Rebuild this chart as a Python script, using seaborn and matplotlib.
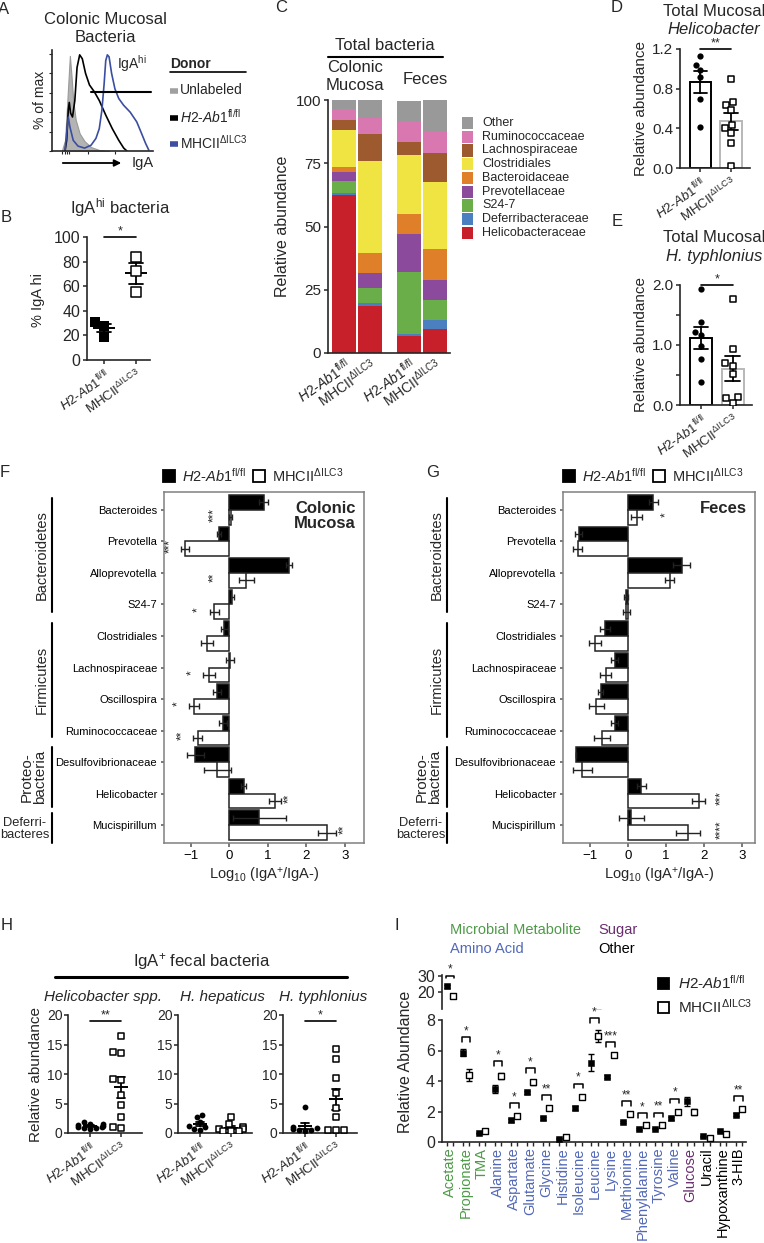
"""Multi-panel IgA / microbiota figure recreated with seaborn."""
import numpy as np
import pandas as pd
import matplotlib
matplotlib.use("Agg")
import matplotlib.pyplot as plt
from matplotlib.patches import Rectangle, FancyArrowPatch
import seaborn as sns

# ---------------------------------------------------------------- data
# A: flow histogram traces (x = fraction of IgA axis, y = % of max)
unlab_x = [0.097, 0.129, 0.145, 0.161, 0.177, 0.194, 0.21, 0.235, 0.274, 0.323, 0.387, 0.468, 0.565]
unlab_y = [0, 11, 39, 69, 98, 76, 52, 32, 18, 10, 4, 1, 0]
h2_trace_x = [0.129, 0.145, 0.161, 0.171, 0.184, 0.203, 0.226, 0.248, 0.274, 0.3, 0.332,
              0.371, 0.419, 0.468, 0.532, 0.597, 0.661, 0.71, 0.742]
h2_trace_y = [0, 11, 42, 50, 39, 35, 52, 86, 99, 95, 80, 68, 61, 52, 37, 23, 11, 3, 0]
mhc_trace_x = [0.129, 0.145, 0.161, 0.177, 0.21, 0.258, 0.323, 0.387, 0.435, 0.468, 0.494, 0.516,
               0.532, 0.548, 0.565, 0.59, 0.623, 0.661, 0.71, 0.774, 0.839, 0.887, 0.926, 0.958]
mhc_trace_y = [1, 18, 35, 25, 11, 5, 3, 6, 13, 23, 42, 69, 93, 99, 97, 80, 64, 54, 47, 40, 30, 18, 8, 1]

# B: % IgA hi
b_h2 = [31, 28, 19]
b_mhc = [84, 72, 55]

# C: relative abundance (stacked, bottom to top)
c_taxa = ["Helicobacteraceae", "Deferribacteraceae", "S24-7", "Prevotellaceae",
          "Bacteroidaceae", "Clostridiales", "Lachnospiraceae", "Ruminococcaceae", "Other"]
c_helico = [62.5, 18.7, 6.8, 9.5]
c_deferri = [0.9, 1.0, 0.8, 3.7]
c_s24 = [4.4, 6.0, 24.4, 7.9]
c_prevot = [3.9, 5.9, 15.2, 7.8]
c_bacter = [2.0, 7.9, 7.9, 12.2]
c_clostr = [14.5, 36.2, 23.0, 26.4]
c_lachno = [3.9, 10.7, 5.3, 11.7]
c_rumino = [4.2, 6.4, 7.8, 8.6]
c_other = [3.7, 7.2, 8.6, 12.2]
c_colors = ["#c8202a", "#4a7fc0", "#6aae4a", "#8b4a9c", "#e07f2a",
            "#f0e442", "#9c5a2e", "#d977b0", "#999999"]

# D / E: mucosal Helicobacter
d_h2 = [1.13, 1.04, 0.99, 0.92, 0.70, 0.41]
d_mhc = [0.90, 0.67, 0.64, 0.58, 0.43, 0.40, 0.35, 0.25, 0.02]
e_h2 = [1.94, 1.38, 1.21, 1.17, 0.99, 0.76, 0.38]
e_mhc = [1.77, 0.94, 0.70, 0.65, 0.51, 0.14, 0.11, 0.04]

# F / G: log10 IgA+/IgA- ratios
fg_taxa = ["Bacteroides", "Prevotella", "Alloprevotella", "S24-7", "Clostridiales",
           "Lachnospiraceae", "Oscillospira", "Ruminococcaceae", "Desulfovibrionaceae",
           "Helicobacter", "Mucispirillum"]
f_h2 = [0.89, -0.26, 1.56, 0.08, -0.13, 0.02, -0.32, -0.17, -0.89, 0.37, 0.78]
f_h2_err = [0.11, 0.05, 0.08, 0.05, 0.1, 0.1, 0.1, 0.1, 0.22, 0.07, 0.68]
f_mhc = [0.04, -1.15, 0.44, -0.39, -0.58, -0.53, -0.92, -0.82, -0.32, 1.19, 2.54]
f_mhc_err = [0.04, 0.1, 0.2, 0.12, 0.15, 0.15, 0.12, 0.12, 0.35, 0.15, 0.23]
f_stars = ["***", "***", "**", "*", "", "*", "*", "**", "", "**", "**"]
g_h2 = [0.67, -1.29, 1.41, -0.06, -0.61, -0.35, -0.71, -0.35, -1.37, 0.35, 0.09]
g_h2_err = [0.12, 0.1, 0.23, 0.05, 0.13, 0.08, 0.06, 0.1, 0.0, 0.12, 0.33]
g_mhc = [0.23, -1.32, 1.10, -0.04, -0.86, -0.58, -0.83, -0.68, -1.19, 1.85, 1.57]
g_mhc_err = [0.15, 0.12, 0.12, 0.1, 0.15, 0.15, 0.2, 0.2, 0.25, 0.16, 0.32]
g_stars = ["*", "", "", "", "", "", "", "", "", "***", "****"]

# H: IgA+ fecal bacteria
h_titles = ["Helicobacter spp.", "H. hepaticus", "H. typhlonius"]
h_h2 = [[1.8, 1.6, 1.5, 1.4, 1.2, 1.1, 1.0, 0.9, 0.8, 0.6],
        [2.7, 3.0, 1.9, 1.2, 1.0, 0.6, 0.5],
        [4.4, 1.0, 0.85, 0.7, 0.55, 0.45, 0.3]]
h_mhc = [[16.4, 13.8, 13.6, 9.1, 8.9, 6.4, 4.7, 2.7, 1.0, 0.9],
         [2.7, 1.5, 1.0, 0.7, 0.6, 0.3, 0.3, 0.3],
         [14.3, 12.6, 9.3, 6.7, 4.3, 2.7, 0.55, 0.5, 0.45]]
h_stars = ["**", "", "*"]

# I: metabolites
i_names = ["Acetate", "Propionate", "TMA", "Alanine", "Aspartate", "Glutamate", "Glycine",
           "Histidine", "Isoleucine", "Leucine", "Lysine", "Methionine", "Phenylalanine",
           "Tyrosine", "Valine", "Glucose", "Uracil", "Hypoxanthine", "3-HIB"]
i_class = ["Microbial Metabolite"] * 3 + ["Amino Acid"] * 12 + ["Sugar"] + ["Other"] * 3
i_h2 = [23.5, 5.86, 0.59, 3.46, 1.42, 3.25, 1.57, 0.22, 2.22, 5.2, 4.29, 1.31, 0.85,
        0.87, 1.57, 2.66, 0.37, 0.70, 1.79]
i_h2_err = [1.0, 0.25, 0.03, 0.25, 0.08, 0.12, 0.1, 0.03, 0.15, 0.55, 0.12, 0.08, 0.05,
            0.05, 0.1, 0.3, 0.03, 0.04, 0.08]
i_mhc = [17.5, 4.40, 0.70, 4.34, 1.72, 3.92, 2.22, 0.30, 2.94, 6.95, 5.71, 1.85, 1.09,
         1.13, 2.0, 1.96, 0.26, 0.54, 2.16]
i_mhc_err = [1.2, 0.4, 0.05, 0.2, 0.08, 0.15, 0.08, 0.03, 0.12, 0.4, 0.1, 0.08, 0.05,
             0.05, 0.08, 0.2, 0.03, 0.03, 0.08]
i_stars = ["*", "*", "", "*", "*", "*", "**", "", "*", "*", "***", "**", "*", "**", "*",
           "", "", "", "**"]
class_colors = {"Microbial Metabolite": "#4d9a47", "Amino Acid": "#5268b8",
                "Sugar": "#6a2d6f", "Other": "black"}

H2_LAB = r"$\mathit{H2}$-$\mathit{Ab1}^{\mathrm{fl/fl}}$"
MHC_LAB = r"MHCII$^{\Delta\mathrm{ILC3}}$"
GROUPS = ["H2", "MHC"]

# ---------------------------------------------------------------- setup
W, H = 764, 1243
sns.set_theme(style="ticks")
plt.rcParams["font.family"] = ["Liberation Sans", "DejaVu Sans"]
plt.rcParams["mathtext.fontset"] = "custom"
plt.rcParams["mathtext.rm"] = "Liberation Sans"
plt.rcParams["mathtext.it"] = "Liberation Sans:italic"
plt.rcParams["mathtext.bf"] = "Liberation Sans:bold"
plt.rcParams["axes.linewidth"] = 1.2
plt.rcParams["xtick.major.width"] = 1.1
plt.rcParams["ytick.major.width"] = 1.1
plt.rcParams["xtick.major.size"] = 3
plt.rcParams["ytick.major.size"] = 3
plt.rcParams["xtick.major.pad"] = 2
plt.rcParams["ytick.major.pad"] = 2

fig = plt.figure(figsize=(W / 100, H / 100), dpi=100)


def add_ax(left, top, right, bottom):
    """Axes placed in pixel coordinates (origin top-left)."""
    ax = fig.add_axes([left / W, 1 - bottom / H, (right - left) / W, (bottom - top) / H])
    ax.patch.set_visible(False)
    return ax


def ftext(x, y, s, **kw):
    kw.setdefault("ha", "center")
    kw.setdefault("va", "center")
    return fig.text(x / W, 1 - y / H, s, **kw)


def fline(xs, ys, **kw):
    kw.setdefault("color", "black")
    fig.add_artist(plt.Line2D([x / W for x in xs], [1 - y / H for y in ys], **kw))


def fsquare(x, y, size, filled):
    fig.add_artist(Rectangle((x / W, 1 - (y + size) / H), size / W, size / H,
                             facecolor="black" if filled else "white",
                             edgecolor="black", lw=1.3, transform=fig.transFigure))


def group_xticks(ax, fontsize):
    ax.set_xticks([0, 1])
    ax.set_xticklabels([H2_LAB, MHC_LAB], rotation=35, ha="right",
                       rotation_mode="anchor", fontsize=fontsize)
    ax.set_xlabel("")


def dot_panel(ax, h2_vals, mhc_vals, h2_marker, msize, bars=False, mean_size=12, cap=0.3):
    df = pd.DataFrame({"group": ["H2"] * len(h2_vals) + ["MHC"] * len(mhc_vals),
                       "value": list(h2_vals) + list(mhc_vals)})
    if bars:
        sns.barplot(data=df, x="group", y="value", order=GROUPS, errorbar="se",
                    width=0.7, capsize=0.45, color="white", saturation=1,
                    linewidth=1.4, edgecolor="black",
                    err_kws={"color": "black", "linewidth": 1.3}, ax=ax)
        ax.patches[1].set_edgecolor("#b8b8b8")
    sns.swarmplot(data=df[df["group"] == "H2"], x="group", y="value", order=GROUPS,
                  marker=h2_marker, color="black", size=msize, ax=ax, warn_thresh=1)
    sns.swarmplot(data=df[df["group"] == "MHC"], x="group", y="value", order=GROUPS,
                  marker="s", color="white", edgecolor="black", linewidth=1.1,
                  size=msize, ax=ax, warn_thresh=1)
    if not bars:
        sns.pointplot(data=df, x="group", y="value", order=GROUPS, errorbar="se",
                      linestyle="none", marker="_", markersize=mean_size,
                      markeredgewidth=1.4, capsize=cap, color="black",
                      err_kws={"linewidth": 1.3}, ax=ax)
    sns.despine(ax=ax)
    ax.set_ylabel("")


def sig_line(ax, y, star, fontsize=9):
    ax.plot([0, 1], [y, y], color="black", lw=1.2, clip_on=False)
    ax.text(0.5, y, star, ha="center", va="bottom", fontsize=fontsize)


# ---------------------------------------------------------------- A
ftext(4, 9, "A", fontsize=12)
ftext(105, 19, "Colonic Mucosal", fontsize=12)
ftext(105, 37, "Bacteria", fontsize=12)
ax = add_ax(52, 50, 153, 151)
ax.fill_between(unlab_x, unlab_y, color="#b3b3b3", lw=0.8, edgecolor="#9a9a9a")
sns.lineplot(x=h2_trace_x, y=h2_trace_y, color="black", lw=1.2, sort=False,
             estimator=None, ax=ax)
sns.lineplot(x=mhc_trace_x, y=mhc_trace_y, color="#3c4ea0", lw=1.2, sort=False,
             estimator=None, ax=ax)
ax.plot([0.39, 0.98], [61, 61], color="black", lw=1.5)
ax.text(0.79, 90, r"IgA$^{\mathrm{hi}}$", ha="center", va="center", fontsize=10)
ax.set_xlim(0, 1)
ax.set_ylim(0, 104)
ax.set_yticks([0, 20, 40, 60, 80, 100])
ax.set_yticklabels([])
ax.set_xticks([0.1, 0.13, 0.15, 0.17, 0.36, 0.62])
ax.set_xticklabels([])
ax.tick_params(length=2, width=0.8)
sns.despine(ax=ax)
ftext(40, 100, "% of max", rotation=90, fontsize=10)
fig.add_artist(FancyArrowPatch((60 / W, 1 - 163 / H), (124 / W, 1 - 163 / H),
                               transform=fig.transFigure, arrowstyle="-|>",
                               mutation_scale=10, lw=1.3, color="black"))
ftext(143, 163, "IgA", fontsize=10.5)
ftext(170, 64, "Donor", ha="left", fontsize=10, weight="bold")
fline([170, 246], [72, 72], lw=1.2)
for yy, col, lab in [(90, "#a0a0a0", "Unlabeled"), (117, "black", H2_LAB),
                     (143, "#3c4ea0", MHC_LAB)]:
    fline([170, 178], [yy + 1, yy + 1], lw=4, color=col, solid_capstyle="butt")
    ftext(180, yy, lab, ha="left", fontsize=10)

# ---------------------------------------------------------------- B
ftext(6, 218, "B", fontsize=12)
ftext(120, 208, r"IgA$^{\mathrm{hi}}$ bacteria", fontsize=12)
ax = add_ax(87, 237, 150, 360)
dot_panel(ax, b_h2, b_mhc, "s", 7, mean_size=16, cap=0.45)
ax.set_ylim(0, 100)
ax.set_xlim(-0.55, 1.45)
ax.set_yticks([0, 20, 40, 60, 80, 100])
ax.tick_params(axis="y", labelsize=11.5)
sig_line(ax, 100, "*")
group_xticks(ax, 9.5)
ftext(38, 300, "% IgA hi", rotation=90, fontsize=10.5)

# ---------------------------------------------------------------- C
ftext(281, 8, "C", fontsize=12)
ftext(385, 45, "Total bacteria", fontsize=12)
fline([328, 443], [57, 57], lw=1.5)
ftext(355, 68, "Colonic", fontsize=12)
ftext(355, 86, "Mucosa", fontsize=12)
ftext(425, 79, "Feces", fontsize=12)
ax = add_ax(328, 100, 450, 353)
c_layers = [c_helico, c_deferri, c_s24, c_prevot, c_bacter, c_clostr, c_lachno, c_rumino, c_other]
c_pos = [0, 1, 2.5, 3.5]
tops = np.cumsum(np.array(c_layers, dtype=float), axis=0)
for top, col in reversed(list(zip(tops, c_colors))):
    sns.barplot(x=c_pos, y=top, native_scale=True, color=col, saturation=1,
                width=0.92, linewidth=0, errorbar=None, ax=ax)
ax.set_xlim(-0.62, 4.08)
ax.set_ylim(0, 100)
ax.set_yticks([0, 25, 50, 75, 100])
ax.tick_params(axis="y", labelsize=11)
ax.set_xticks(c_pos)
ax.set_xticklabels([H2_LAB, MHC_LAB, H2_LAB, MHC_LAB], rotation=35, ha="right",
                   rotation_mode="anchor", fontsize=10)
ax.tick_params(axis="x", length=0)
ax.set_ylabel("Relative abundance", fontsize=11.5, labelpad=4)
sns.despine(ax=ax)
for k, (name, col) in enumerate(zip(reversed(c_taxa), reversed(c_colors))):
    yy = 123 + k * 13.75
    fig.add_artist(Rectangle((462 / W, 1 - (yy + 6) / H), 11 / W, 12 / H,
                             facecolor=col, lw=0, transform=fig.transFigure))
    ftext(482, yy, name, ha="left", fontsize=9)

# ---------------------------------------------------------------- D
ftext(617, 8, "D", fontsize=12)
ftext(714, 12, "Total Mucosal", fontsize=12)
ftext(714, 29, "Helicobacter", fontsize=12, style="italic")
ax = add_ax(680, 49, 750, 168)
dot_panel(ax, d_h2, d_mhc, "o", 4.5, bars=True)
ax.set_ylim(0, 1.2)
ax.set_xlim(-0.67, 1.62)
ax.set_yticks([0, 0.4, 0.8, 1.2])
ax.set_yticklabels(["0.0", "0.4", "0.8", "1.2"])
ax.tick_params(axis="y", labelsize=11)
sig_line(ax, 1.2, "**")
group_xticks(ax, 9.5)
ax.set_ylabel("Relative abundance", fontsize=11, labelpad=3)

# ---------------------------------------------------------------- E
ftext(617, 221, "E", fontsize=12)
ftext(714, 238, "Total Mucosal", fontsize=12)
ftext(714, 257, "H. typhlonius", fontsize=12, style="italic")
ax = add_ax(680, 285, 752, 405)
dot_panel(ax, e_h2, e_mhc, "o", 4.5, bars=True)
ax.set_ylim(0, 2.0)
ax.set_xlim(-0.67, 1.62)
ax.set_yticks([0, 0.5, 1.0, 1.5, 2.0])
ax.set_yticklabels(["0.0", "", "1.0", "", "2.0"])
ax.tick_params(axis="y", labelsize=11)
sig_line(ax, 2.0, "*")
group_xticks(ax, 9.5)
ax.set_ylabel("Relative abundance", fontsize=11, labelpad=3)


# ---------------------------------------------------------------- F / G
def taxa_panel(ax, h2, h2_err, mhc, mhc_err, stars, xlim, title):
    df = pd.DataFrame({"taxon": fg_taxa * 2, "value": h2 + mhc,
                       "group": ["H2"] * len(h2) + ["MHC"] * len(mhc)})
    sns.barplot(data=df, y="taxon", x="value", hue="group", order=fg_taxa,
                hue_order=GROUPS, palette={"H2": "black", "MHC": "white"},
                orient="h", width=0.95, edgecolor="#222222", linewidth=1.1,
                saturation=1, errorbar=None, legend=False, ax=ax)
    pos = np.arange(len(fg_taxa))
    off = 0.95 / 4
    ax.errorbar(h2, pos - off, xerr=h2_err, fmt="none", ecolor="#222222",
                elinewidth=1, capsize=2)
    ax.errorbar(mhc, pos + off, xerr=mhc_err, fmt="none", ecolor="#222222",
                elinewidth=1, capsize=2)
    for i, star in enumerate(stars):
        if not star:
            continue
        lo = min(0, h2[i] - h2_err[i], mhc[i] - mhc_err[i])
        hi = max(h2[i] + h2_err[i], mhc[i] + mhc_err[i])
        if mhc[i] > 1.5 and xlim[1] < 3.4:
            x = 2.44
        elif mhc[i] > 0.6 or (h2[i] > 0.5 and xlim[1] < 3.4):
            x = hi + 0.22
        elif lo == 0:
            x = -0.4
        else:
            x = lo - 0.3
        ax.text(x, i + 0.15, star, rotation=90, ha="center", va="center", fontsize=8.5)
    ax.set_xlim(*xlim)
    ax.set_ylim(len(fg_taxa) - 0.43, -0.57)
    ax.set_xticks([-1, 0, 1, 2, 3])
    ax.tick_params(axis="x", labelsize=9.5, colors="#555555", labelcolor="black")
    ax.tick_params(axis="y", labelsize=8, length=2, pad=3, colors="#555555",
                   labelcolor="black")
    for sp in ax.spines.values():
        sp.set_color("#808080")
        sp.set_linewidth(1.1)
    ax.set_ylabel("")
    ax.set_xlabel(r"Log$_{10}$ (IgA$^{+}$/IgA-)", fontsize=10.5, labelpad=3)
    ax.text(0.96, 0.975, title, transform=ax.transAxes, ha="right", va="top",
            fontsize=12, weight="bold", linespacing=1.0)


def phylum_brackets(xline, xlab, xdef):
    for y0, y1 in [(498, 612), (623, 737), (747, 807), (813, 843)]:
        fline([xline, xline], [y0, y1], lw=1.5)
    ftext(xlab, 555, "Bacteroidetes", rotation=90, fontsize=10.5)
    ftext(xlab, 680, "Firmicutes", rotation=90, fontsize=10.5)
    ftext(xlab - 9, 777, "Proteo-\nbacteria", rotation=90, fontsize=11, linespacing=0.95)
    ftext(xdef, 829, "Deferri-\nbacteres", fontsize=9.3, linespacing=1.05, ha="center")


def taxa_legend(x0):
    fsquare(x0, 470, 12, True)
    ftext(x0 + 19, 476, H2_LAB, ha="left", fontsize=10.5)
    fsquare(x0 + 90, 470, 12, False)
    ftext(x0 + 109, 476, MHC_LAB, ha="left", fontsize=10.5)


ftext(5, 473, "F", fontsize=12)
taxa_legend(163)
ax = add_ax(164, 492, 364, 843)
taxa_panel(ax, f_h2, f_h2_err, f_mhc, f_mhc_err, f_stars, (-1.7, 3.5), "Colonic\nMucosa")
phylum_brackets(52, 42, 25)

ftext(433, 473, "G", fontsize=12)
taxa_legend(563)
ax = add_ax(563, 492, 755, 843)
taxa_panel(ax, g_h2, g_h2_err, g_mhc, g_mhc_err, g_stars, (-1.7, 3.33), "Feces")
phylum_brackets(447, 437, 421)

# ---------------------------------------------------------------- H
ftext(7, 925, "H", fontsize=12)
ftext(202, 962, r"IgA$^{+}$ fecal bacteria", fontsize=12)
fline([55, 347], [977, 977], lw=2.2)
h_left = [68, 178, 283]
h_center = [103, 222, 323]
for k in range(3):
    ftext(h_center[k], 997, h_titles[k], fontsize=11, style="italic")
    ax = add_ax(h_left[k], 1015, h_left[k] + 74, 1133)
    dot_panel(ax, h_h2[k], h_mhc[k], "o", 4.2, mean_size=10, cap=0.25)
    ax.set_ylim(0, 20)
    ax.set_xlim(-0.72, 1.68)
    ax.set_yticks([0, 5, 10, 15, 20])
    ax.tick_params(axis="y", labelsize=10, pad=1)
    if h_stars[k]:
        sig_line(ax, 18.9, h_stars[k])
    group_xticks(ax, 9.5)
    if k == 0:
        ax.set_ylabel("Relative abundance", fontsize=11, labelpad=3)

# ---------------------------------------------------------------- I
ftext(397, 925, "I", fontsize=12)
ftext(450, 930, "Microbial Metabolite", ha="left", fontsize=10.5,
      color=class_colors["Microbial Metabolite"])
ftext(450, 949, "Amino Acid", ha="left", fontsize=10.5, color=class_colors["Amino Acid"])
ftext(598, 930, "Sugar", ha="left", fontsize=10.5, color=class_colors["Sugar"])
ftext(598, 949, "Other", ha="left", fontsize=10.5, color=class_colors["Other"])

ax_top = add_ax(442, 975, 746, 1009)
ax_bot = add_ax(442, 1020, 746, 1142)
i_pos = np.arange(len(i_names))
for ax in (ax_top, ax_bot):
    ax.errorbar(i_pos - 0.2, i_h2, yerr=i_h2_err, fmt="none", ecolor="black",
                elinewidth=1, capsize=2)
    ax.errorbar(i_pos + 0.2, i_mhc, yerr=i_mhc_err, fmt="none", ecolor="black",
                elinewidth=1, capsize=2)
    sns.scatterplot(x=i_pos - 0.2, y=i_h2, marker="s", color="black", edgecolor="black",
                    s=24, zorder=3, ax=ax)
    sns.scatterplot(x=i_pos + 0.2, y=i_mhc, marker="s", color="white", edgecolor="black",
                    linewidth=1, s=24, zorder=3, ax=ax)
    ax.set_xlim(-0.5, len(i_names) - 0.55)
    ax.tick_params(axis="y", labelsize=11.5)

ax_top.set_ylim(9.5, 30.5)
ax_top.set_yticks([20, 30])
ax_top.set_xticks([])
sns.despine(ax=ax_top, bottom=True)

ax_bot.set_ylim(0, 8)
ax_bot.set_yticks([0, 2, 4, 6, 8])
ax_bot.set_xticks(i_pos)
ax_bot.set_xticklabels(i_names, rotation=90, fontsize=10.5)
for lab, cls in zip(ax_bot.get_xticklabels(), i_class):
    lab.set_color(class_colors[cls])
ax_bot.set_xticks(np.concatenate([i_pos - 0.2, i_pos + 0.2]), minor=True)
ax_bot.tick_params(axis="x", which="major", length=0, pad=4)
ax_bot.tick_params(axis="x", which="minor", length=3, width=1)
sns.despine(ax=ax_bot)

for i, star in enumerate(i_stars):
    if not star:
        continue
    top = max(i_h2[i] + i_h2_err[i], i_mhc[i] + i_mhc_err[i])
    if top > 8:
        ax, y, drop = ax_top, min(top + 5.5, 30), 1.5
    else:
        ax, y, drop = ax_bot, top + 0.75, 0.3
    ax.plot([i - 0.27, i - 0.27, i + 0.27, i + 0.27], [y - drop, y, y, y - drop],
            color="black", lw=1.1, clip_on=False)
    ax.text(i, y, star, ha="center", va="bottom", fontsize=8.5)

fsquare(658, 978, 11, True)
ftext(678, 983, H2_LAB, ha="left", fontsize=11)
fsquare(658, 1002, 11, False)
ftext(678, 1007, MHC_LAB, ha="left", fontsize=11)
ftext(405, 1062, "Relative Abundance", rotation=90, fontsize=11.5)

fig.savefig("out.png", dpi=100)
